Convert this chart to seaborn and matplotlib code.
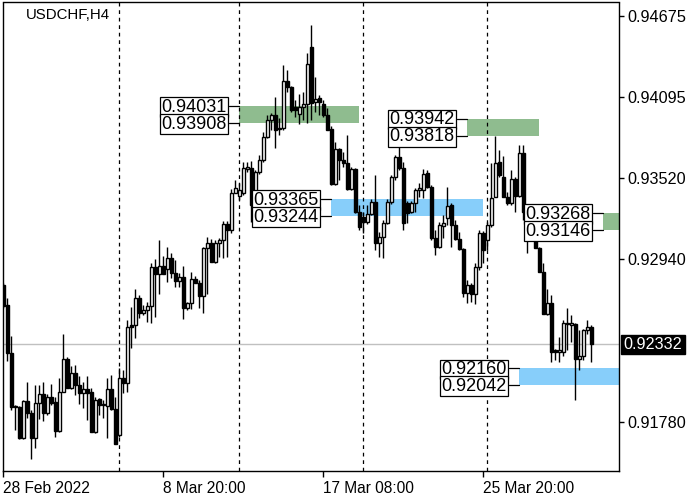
import matplotlib
matplotlib.use("Agg")
import matplotlib.pyplot as plt
import matplotlib.transforms as mtransforms
from matplotlib.patches import Rectangle
import numpy as np
import pandas as pd
import seaborn as sns

# ---------------- data ----------------
symbol_title = "USDCHF,H4"

opens = [
    0.92755, 0.92612, 0.92270, 0.91892, 0.91885, 0.91664, 0.91928, 0.91843, 0.91664, 0.91914,
    0.91977, 0.91843, 0.91956, 0.91921, 0.91714, 0.91992, 0.92227, 0.92021, 0.92128, 0.92042,
    0.91985, 0.92014, 0.91992, 0.91707, 0.91942, 0.91899, 0.91892, 0.92014, 0.91871, 0.91685,
    0.92092, 0.92057, 0.92469, 0.92469, 0.92662, 0.92556, 0.92577, 0.92605, 0.92883, 0.92833,
    0.92890, 0.92869, 0.92947, 0.92841, 0.92784, 0.92812, 0.92591, 0.92627, 0.92798, 0.92770,
    0.92677, 0.93019, 0.93054, 0.92919, 0.93054, 0.93076, 0.93190, 0.93147, 0.93411, 0.93390,
    0.93411, 0.93582, 0.93589, 0.93347, 0.93561, 0.93646, 0.93810, 0.93931, 0.93967, 0.93874,
    0.93874, 0.94209, 0.94167, 0.94024, 0.93974, 0.94024, 0.94046, 0.94452, 0.94060, 0.94088,
    0.94046, 0.93967, 0.93867, 0.93475, 0.93725, 0.93646, 0.93625, 0.93439, 0.93582, 0.93275,
    0.93240, 0.93204, 0.93261, 0.93347, 0.93054, 0.93097, 0.93197, 0.93347, 0.93525, 0.93668,
    0.93589, 0.93340, 0.93275, 0.93340, 0.93432, 0.93432, 0.93554, 0.93454, 0.93090, 0.93026,
    0.93176, 0.93233, 0.93325, 0.93183, 0.93083, 0.93012, 0.92698, 0.92755, 0.92690, 0.92883,
    0.93126, 0.93076, 0.93183, 0.93382, 0.93632, 0.93525, 0.93382, 0.93340, 0.93511, 0.93390,
    0.93696, 0.93275, 0.93147, 0.93076, 0.93019, 0.92848, 0.92548, 0.92627, 0.92292, 0.92277,
    0.92277, 0.92484, 0.92469, 0.92477, 0.92227, 0.92249, 0.92434, 0.92455,
]
highs = [
    0.92770, 0.92662, 0.92391, 0.91899, 0.91892, 0.91935, 0.92064, 0.91864, 0.92042, 0.92042,
    0.92064, 0.91977, 0.92049, 0.91956, 0.92092, 0.92405, 0.92241, 0.92177, 0.92184, 0.92106,
    0.92064, 0.92106, 0.92021, 0.91956, 0.91949, 0.91935, 0.92092, 0.92113, 0.91956, 0.92163,
    0.92149, 0.92505, 0.92598, 0.92727, 0.92683, 0.92612, 0.92634, 0.92912, 0.92940, 0.93076,
    0.92961, 0.93026, 0.92983, 0.92933, 0.92841, 0.92890, 0.92634, 0.92848, 0.92819, 0.92791,
    0.93026, 0.93097, 0.93083, 0.93076, 0.93090, 0.93211, 0.93211, 0.93439, 0.93504, 0.93482,
    0.93632, 0.93632, 0.93639, 0.93575, 0.93682, 0.93846, 0.93967, 0.93981, 0.94095, 0.93946,
    0.94324, 0.94288, 0.94174, 0.94074, 0.94117, 0.94131, 0.94409, 0.94609, 0.94238, 0.94110,
    0.94074, 0.94017, 0.93889, 0.93775, 0.93732, 0.93703, 0.93824, 0.93596, 0.93589, 0.93325,
    0.93275, 0.93325, 0.93368, 0.93539, 0.93133, 0.93218, 0.93368, 0.93539, 0.93682, 0.93753,
    0.93632, 0.93354, 0.93354, 0.93447, 0.93482, 0.93582, 0.93575, 0.93468, 0.93147, 0.93204,
    0.93254, 0.93454, 0.93340, 0.93218, 0.93133, 0.93019, 0.92791, 0.92770, 0.92912, 0.93147,
    0.93140, 0.93204, 0.93625, 0.93817, 0.93718, 0.93675, 0.93418, 0.93575, 0.93525, 0.93753,
    0.93753, 0.93304, 0.93254, 0.93126, 0.93026, 0.92912, 0.92727, 0.92683, 0.92299, 0.92384,
    0.92505, 0.92591, 0.92541, 0.92484, 0.92434, 0.92441, 0.92505, 0.92469,
]
lows = [
    0.92591, 0.92213, 0.91864, 0.91721, 0.91657, 0.91657, 0.91807, 0.91514, 0.91593, 0.91800,
    0.91785, 0.91828, 0.91899, 0.91671, 0.91707, 0.91992, 0.92021, 0.92014, 0.91970, 0.91906,
    0.91878, 0.91792, 0.91707, 0.91700, 0.91828, 0.91807, 0.91664, 0.91864, 0.91621, 0.91671,
    0.91985, 0.91992, 0.92306, 0.92377, 0.92520, 0.92541, 0.92491, 0.92484, 0.92527, 0.92690,
    0.92833, 0.92777, 0.92805, 0.92741, 0.92741, 0.92513, 0.92577, 0.92584, 0.92770, 0.92591,
    0.92556, 0.92690, 0.92919, 0.92912, 0.92955, 0.92947, 0.92955, 0.93126, 0.93411, 0.93361,
    0.93397, 0.93561, 0.93204, 0.93333, 0.93546, 0.93632, 0.93803, 0.93860, 0.93732, 0.93824,
    0.93860, 0.94131, 0.93988, 0.93953, 0.93903, 0.93931, 0.93910, 0.93931, 0.93988, 0.93967,
    0.93953, 0.93860, 0.93468, 0.93468, 0.93504, 0.93596, 0.93432, 0.93432, 0.93268, 0.93147,
    0.93126, 0.93190, 0.93254, 0.93005, 0.92955, 0.92947, 0.93190, 0.93333, 0.93504, 0.93575,
    0.93147, 0.93197, 0.93268, 0.93275, 0.93382, 0.93375, 0.93447, 0.93076, 0.92969, 0.93019,
    0.93090, 0.93183, 0.93026, 0.93076, 0.93005, 0.92669, 0.92627, 0.92634, 0.92620, 0.92862,
    0.92912, 0.93005, 0.93169, 0.93382, 0.93525, 0.93382, 0.93325, 0.93325, 0.93275, 0.93382,
    0.93218, 0.92983, 0.93097, 0.93019, 0.92848, 0.92548, 0.92541, 0.92206, 0.92220, 0.92206,
    0.92249, 0.92292, 0.92349, 0.91935, 0.92149, 0.92220, 0.92405, 0.92206,
]
closes = [
    0.92605, 0.92270, 0.91885, 0.91885, 0.91664, 0.91928, 0.91843, 0.91664, 0.91914, 0.91977,
    0.91843, 0.91956, 0.91914, 0.91714, 0.91992, 0.92227, 0.92021, 0.92128, 0.92042, 0.91985,
    0.92014, 0.91985, 0.91707, 0.91935, 0.91899, 0.91906, 0.92014, 0.91871, 0.91621, 0.92092,
    0.92057, 0.92455, 0.92455, 0.92662, 0.92556, 0.92577, 0.92605, 0.92883, 0.92833, 0.92890,
    0.92833, 0.92947, 0.92841, 0.92784, 0.92812, 0.92591, 0.92627, 0.92798, 0.92770, 0.92677,
    0.93019, 0.93054, 0.92919, 0.93054, 0.93076, 0.93190, 0.93147, 0.93411, 0.93447, 0.93432,
    0.93589, 0.93596, 0.93325, 0.93561, 0.93646, 0.93810, 0.93931, 0.93967, 0.93860, 0.93867,
    0.94209, 0.94167, 0.94003, 0.94003, 0.94024, 0.94046, 0.94331, 0.94053, 0.94081, 0.94060,
    0.93967, 0.93860, 0.93475, 0.93725, 0.93646, 0.93625, 0.93439, 0.93582, 0.93275, 0.93169,
    0.93204, 0.93261, 0.93347, 0.93054, 0.93097, 0.93197, 0.93347, 0.93525, 0.93668, 0.93589,
    0.93197, 0.93268, 0.93340, 0.93432, 0.93447, 0.93546, 0.93454, 0.93090, 0.93026, 0.93183,
    0.93197, 0.93318, 0.93183, 0.93083, 0.93012, 0.92698, 0.92755, 0.92690, 0.92883, 0.93126,
    0.93005, 0.93183, 0.93375, 0.93625, 0.93539, 0.93382, 0.93340, 0.93511, 0.93390, 0.93696,
    0.93275, 0.93076, 0.93233, 0.93019, 0.92848, 0.92548, 0.92627, 0.92277, 0.92277, 0.92292,
    0.92484, 0.92477, 0.92484, 0.92227, 0.92249, 0.92434, 0.92455, 0.92332,
]

last_price = 0.92332
price_ticks = [0.94675, 0.94095, 0.93520, 0.92940, 0.91780]
date_tick_bars = [0, 40, 80, 120]
date_tick_labels = ["28 Feb 2022", "8 Mar 20:00", "17 Mar 08:00", "25 Mar 20:00"]
separator_bars = [29, 59, 90, 121]

# zones: upper level, lower level, first bar, last bar, colour
zone_upper = [0.94031, 0.93942, 0.93268, 0.93365, 0.92160]
zone_lower = [0.93908, 0.93818, 0.93146, 0.93244, 0.92042]
zone_start = [59, 116, 150, 82, 129]
zone_end = [89, 134, 160, 120, 160]
zone_color = ["#8fbc8f", "#8fbc8f", "#8fbc8f", "#87cefa", "#87cefa"]

# ---------------- style ----------------
sns.set_theme(style="white")
plt.rcParams["font.family"] = ["Liberation Sans", "DejaVu Sans"]
plt.rcParams["axes.edgecolor"] = "black"
plt.rcParams["axes.linewidth"] = 1.0

df = pd.DataFrame({"open": opens, "high": highs, "low": lows, "close": closes})
df["bar"] = np.arange(len(df))
df["bull"] = df["close"] >= df["open"]

fig = plt.figure(figsize=(7, 5), dpi=100)
ax = fig.add_axes([2.5 / 700, 29 / 500, 616.2 / 700, 468.5 / 500])
ax.set_facecolor("white")

# zones (under candles)
for up, lo, s, e, c in zip(zone_upper, zone_lower, zone_start, zone_end, zone_color):
    ax.add_patch(Rectangle((s, lo), e - s, up - lo, facecolor=c, edgecolor="none", zorder=1))

# separators & last price line
for b in separator_bars:
    ax.axvline(b, color="black", lw=0.9, linestyle=(0, (3, 3)), zorder=1.5)
ax.axhline(last_price, color="#c0c0c0", lw=1, zorder=1.2)

# candles
ax.vlines(df["bar"], df["low"], df["high"], color="black", lw=1.0, zorder=3)
body_bottom = np.minimum(df["open"], df["close"])
body_height = np.maximum(np.abs(df["close"] - df["open"]), 0.00003)
ax.bar(df["bar"], body_height, bottom=body_bottom, width=0.6,
       color=np.where(df["bull"], "white", "black"), edgecolor="black",
       linewidth=1.0, zorder=4)

ax.set_xlim(-0.2, 153.85)
ax.set_ylim(0.91429, 0.94769)

# axes ticks
ax.yaxis.tick_right()
ax.set_yticks(price_ticks)
ax.set_yticklabels([f"{v:.5f}" for v in price_ticks])
ax.tick_params(axis="y", direction="out", length=3.5, width=1, pad=3,
               labelsize=11.7, colors="black", right=True, left=False)
ax.set_xticks(date_tick_bars)
ax.set_xticklabels(date_tick_labels)
for lbl in ax.get_xticklabels():
    lbl.set_horizontalalignment("left")
ax.tick_params(axis="x", direction="out", length=4, width=1, pad=3,
               labelsize=11.2, colors="black", bottom=True)
for sp in ax.spines.values():
    sp.set_visible(True)
    sp.set_color("black")
    sp.set_linewidth(1)
ax.grid(False)

# title
ax.text(23 / 616.2, 1 - 13 / 468.5, symbol_title, transform=ax.transAxes,
        fontsize=10.8, ha="left", va="center", color="black")

# last price label
blend = mtransforms.blended_transform_factory(ax.transAxes, ax.transData)
ax.text(1.0 + 5 / 616.2, last_price, f"{last_price:.5f}", transform=blend,
        ha="left", va="center", fontsize=11.7, color="white", clip_on=False,
        bbox=dict(boxstyle="square,pad=0.14", fc="black", ec="black"))

# zone price labels with connectors
for up, lo, s in zip(zone_upper, zone_lower, zone_start):
    for lvl in (up, lo):
        ax.plot([s - 2.5, s], [lvl, lvl], color="black", lw=0.9, zorder=5, clip_on=False)
        ax.annotate(f"{lvl:.5f}", xy=(s - 2.5, lvl), xytext=(-2.5, -1),
                    textcoords="offset pixels", ha="right", va="center",
                    fontsize=13, color="black", zorder=6,
                    bbox=dict(boxstyle="square,pad=0.08", fc="white", ec="black", lw=0.9))

fig.savefig("out.png", dpi=100)
